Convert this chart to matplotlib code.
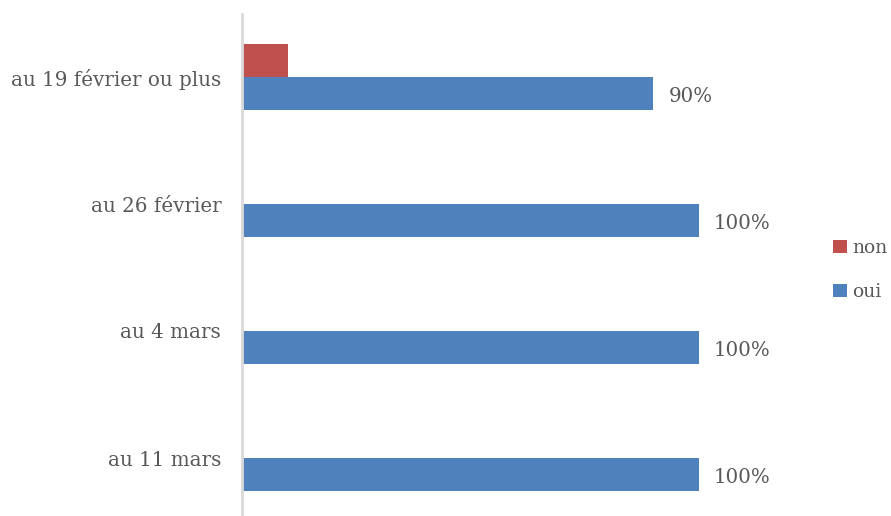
import numpy as np
import matplotlib.pyplot as plt

categories = ['au 19 février ou plus', 'au 26 février', 'au 4 mars', 'au 11 mars']
oui = [0.90, 1.00, 1.00, 1.00]
non = [0.10, 0.0, 0.0, 0.0]
oui_labels = ['90%', '100%', '100%', '100%']

blue = '#4F81BD'
red = '#C0504D'
txt = '#595959'

plt.rcParams['font.family'] = ['DejaVu Serif']

fig = plt.figure(figsize=(8.91, 5.16), dpi=100)
# pixel layout: zero line at x=242, 100% at x=699, categories 127px apart
W, H = 891.0, 516.0
xmax = 1.2
ax = fig.add_axes([242 / W, (H - 521.5) / H, xmax * 457 / W, 508 / H])

y = np.arange(len(categories))
h = 0.26
ax.barh(y + h / 2, oui, height=h, color=blue, label='oui')
ax.barh(y - h / 2, non, height=h, color=red, label='non')

for yi, v, lab in zip(y, oui, oui_labels):
    ax.text(v + 0.033, yi + h / 2 + 0.02, lab, va='center', ha='left', fontsize=14.3, color=txt)

ax.set_xlim(0, xmax)
ax.set_ylim(len(categories) - 0.5, -0.5)
ax.set_yticks(y)
ax.set_yticklabels(categories, fontsize=14.3, color=txt)
ax.tick_params(axis='y', length=0, pad=15)
ax.set_xticks([])
for s in ['top', 'right', 'bottom']:
    ax.spines[s].set_visible(False)
ax.spines['left'].set_color('#D9D9D9')
ax.spines['left'].set_linewidth(2)

handles, labels = ax.get_legend_handles_labels()
fig.legend(handles[::-1], labels[::-1], loc='center left', bbox_to_anchor=(824 / W, 1 - 270 / H),
           frameon=False, fontsize=13.5, labelcolor=txt, handlelength=0.7, handleheight=0.7,
           handletextpad=0.3, labelspacing=1.35, borderpad=0)

fig.savefig('out.png', dpi=100)
